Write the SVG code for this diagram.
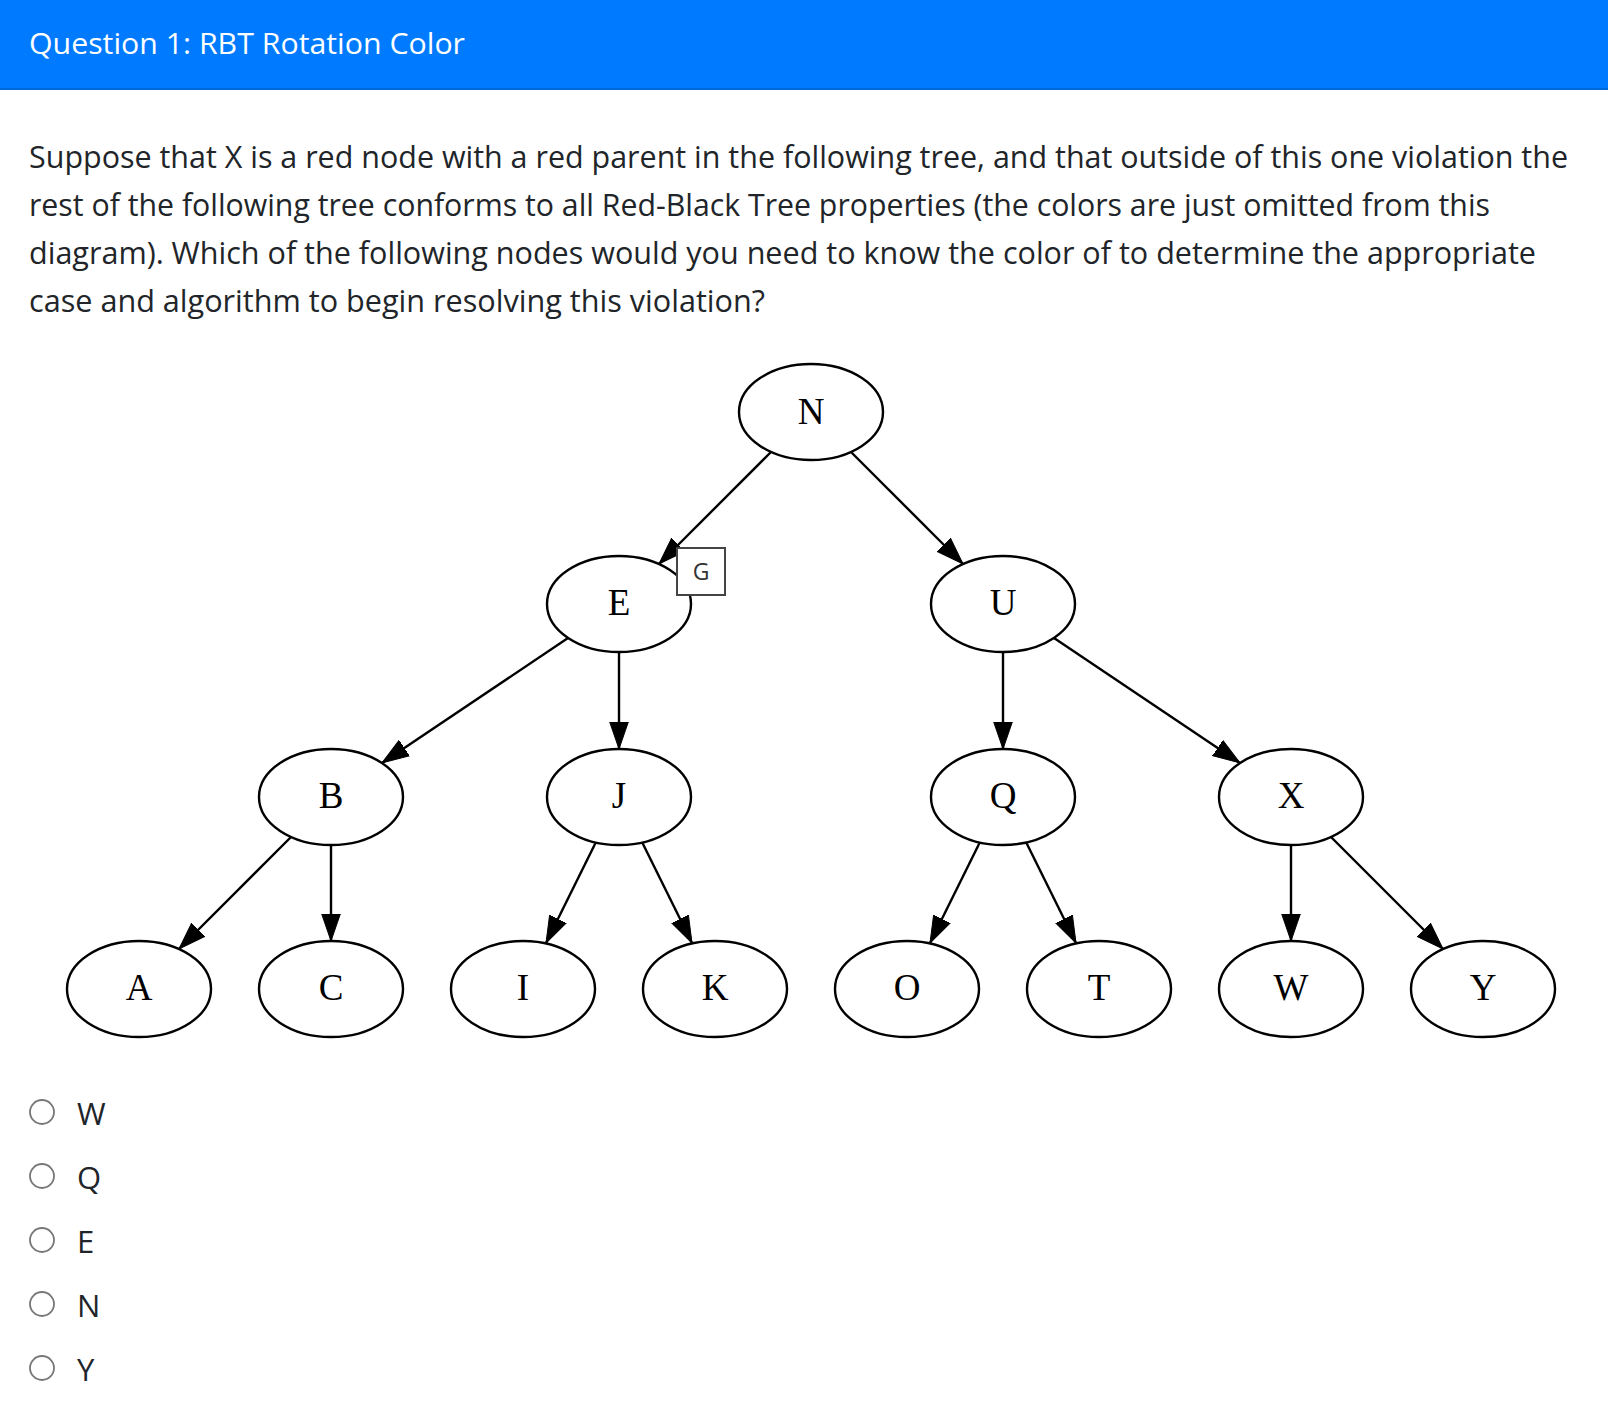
<svg xmlns="http://www.w3.org/2000/svg" width="1608" height="1423" viewBox="0 0 1608 1423">
<style>
.ui{font-family:"Open Sans","Noto Sans","Liberation Sans",sans-serif;fill:#212529}
.para{font-size:31px}
.node ellipse{fill:#fff;stroke:#000;stroke-width:2.4}
.node text{font-family:"Liberation Serif","Times New Roman",serif;font-size:37px;text-anchor:middle;fill:#000}
.edges line{stroke:#000;stroke-width:2.4;marker-end:url(#arr)}
.radio{fill:#fff;stroke:#777;stroke-width:1.8}
.opt{font-size:31px}
</style>
<defs>
<marker id="arr" markerUnits="userSpaceOnUse" markerWidth="30" markerHeight="22" refX="27" refY="11" orient="auto">
<path d="M0,1.7 L27,11 L0,20.3 z" fill="#000" stroke="#000" stroke-width="1"/>
</marker>
</defs>
<rect x="0" y="0" width="1608" height="1423" fill="#fff"/>
<g id="header">
<rect x="0" y="0" width="1608" height="90" fill="#007bff"/>
<rect x="0" y="88" width="1608" height="2" fill="#0069d9"/>
<text x="29" y="54" font-family="'Open Sans','Noto Sans',sans-serif" font-size="30" fill="#fff" textLength="436" lengthAdjust="spacingAndGlyphs">Question 1: RBT Rotation Color</text>
</g>
<g id="question" class="ui para">
<text x="29" y="168" textLength="1539" lengthAdjust="spacingAndGlyphs">Suppose that X is a red node with a red parent in the following tree, and that outside of this one violation the</text>
<text x="29" y="216" textLength="1461" lengthAdjust="spacingAndGlyphs">rest of the following tree conforms to all Red-Black Tree properties (the colors are just omitted from this</text>
<text x="29" y="264" textLength="1507" lengthAdjust="spacingAndGlyphs">diagram). Which of the following nodes would you need to know the color of to determine the appropriate</text>
<text x="29" y="312" textLength="736" lengthAdjust="spacingAndGlyphs">case and algorithm to begin resolving this violation?</text>
</g>
<g id="connectors" class="edges">
<line x1="771" y1="452" x2="659" y2="564"/>
<line x1="851" y1="452" x2="963" y2="564"/>
<line x1="568" y1="638" x2="382" y2="763"/>
<line x1="619" y1="652" x2="619" y2="749"/>
<line x1="1003" y1="652" x2="1003" y2="749"/>
<line x1="1054" y1="638" x2="1240" y2="763"/>
<line x1="291" y1="837" x2="179" y2="949"/>
<line x1="331" y1="845" x2="331" y2="941"/>
<line x1="596" y1="842" x2="546" y2="943"/>
<line x1="642" y1="842" x2="692" y2="943"/>
<line x1="980" y1="842" x2="930" y2="943"/>
<line x1="1026" y1="842" x2="1076" y2="943"/>
<line x1="1291" y1="845" x2="1291" y2="941"/>
<line x1="1331" y1="837" x2="1443" y2="949"/>
</g>
<g id="node-N" class="node"><ellipse cx="811" cy="412" rx="72" ry="48"/><text x="811" y="424">N</text></g>
<g id="node-E" class="node"><ellipse cx="619" cy="604" rx="72" ry="48"/><text x="619" y="615">E</text></g>
<g id="node-U" class="node"><ellipse cx="1003" cy="604" rx="72" ry="48"/><text x="1003" y="615">U</text></g>
<g id="node-B" class="node"><ellipse cx="331" cy="797" rx="72" ry="48"/><text x="331" y="808">B</text></g>
<g id="node-J" class="node"><ellipse cx="619" cy="797" rx="72" ry="48"/><text x="619" y="808">J</text></g>
<g id="node-Q" class="node"><ellipse cx="1003" cy="797" rx="72" ry="48"/><text x="1003" y="808">Q</text></g>
<g id="node-X" class="node"><ellipse cx="1291" cy="797" rx="72" ry="48"/><text x="1291" y="808">X</text></g>
<g id="node-A" class="node"><ellipse cx="139" cy="989" rx="72" ry="48"/><text x="139" y="1000">A</text></g>
<g id="node-C" class="node"><ellipse cx="331" cy="989" rx="72" ry="48"/><text x="331" y="1000">C</text></g>
<g id="node-I" class="node"><ellipse cx="523" cy="989" rx="72" ry="48"/><text x="523" y="1000">I</text></g>
<g id="node-K" class="node"><ellipse cx="715" cy="989" rx="72" ry="48"/><text x="715" y="1000">K</text></g>
<g id="node-O" class="node"><ellipse cx="907" cy="989" rx="72" ry="48"/><text x="907" y="1000">O</text></g>
<g id="node-T" class="node"><ellipse cx="1099" cy="989" rx="72" ry="48"/><text x="1099" y="1000">T</text></g>
<g id="node-W" class="node"><ellipse cx="1291" cy="989" rx="72" ry="48"/><text x="1291" y="1000">W</text></g>
<g id="node-Y" class="node"><ellipse cx="1483" cy="989" rx="72" ry="48"/><text x="1483" y="1000">Y</text></g>
<g id="label-G">
<rect x="677" y="548" width="48" height="47" fill="#fff" stroke="#444" stroke-width="2"/>
<text x="701" y="580" text-anchor="middle" font-family="'Open Sans','Noto Sans',sans-serif" font-size="23" fill="#333">G</text>
</g>
<g id="options" class="ui opt">
<circle class="radio" cx="42" cy="1112" r="12"/><text x="77" y="1125">W</text>
<circle class="radio" cx="42" cy="1176" r="12"/><text x="77" y="1189">Q</text>
<circle class="radio" cx="42" cy="1240" r="12"/><text x="77" y="1253">E</text>
<circle class="radio" cx="42" cy="1304" r="12"/><text x="77" y="1317">N</text>
<circle class="radio" cx="42" cy="1368" r="12"/><text x="77" y="1381">Y</text>
</g>
</svg>
